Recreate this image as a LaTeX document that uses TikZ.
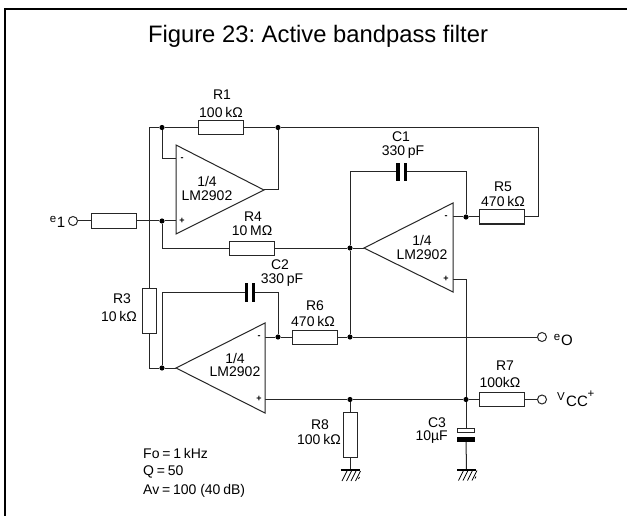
\documentclass[tikz,border=0pt]{standalone}
\usepackage{fontspec}
\setmainfont{Liberation Sans}
\frenchspacing
\newcommand{\nsp}{\hspace{0.2em}}
\tikzset{
  wire/.style={line width=1pt,black!85},
  res/.style={draw=black!85,line width=1pt,fill=white,rectangle,inner sep=0pt,minimum width=45pt,minimum height=14pt},
  vres/.style={res,minimum width=14pt,minimum height=45pt},
  jdot/.style={circle,fill=black,inner sep=0pt,minimum size=5.2pt},
  term/.style={circle,draw=black!85,line width=1pt,fill=white,inner sep=0pt,minimum size=9pt},
  plate/.style={rectangle,fill=black,inner sep=0pt},
  lab/.style={inner sep=0pt,font=\fontsize{14}{15}\selectfont},
  sgn/.style={inner sep=0pt,font=\fontsize{9}{10}\selectfont},
  small/.style={inner sep=0pt,font=\fontsize{11.5}{12}\selectfont},
  big/.style={inner sep=0pt,font=\fontsize{15}{15}\selectfont},
  amp/.style={draw=black!85,line width=1pt,fill=white,line join=miter},
  gndsym/.pic={
    \draw[line width=2pt] (-9.5,0)--(9.5,0);
    \foreach \i in {-8,-3.5,1,5.5}{\draw[line width=0.7pt] (\i+5,1)--(\i,11);}
    \draw[line width=0.7pt] (9.5,7)--(8.5,9);
  }
}
\begin{document}
\begin{tikzpicture}[x=1pt,y=-1pt]
\useasboundingbox (0,0) rectangle (627,516);
\fill[white] (0,0) rectangle (627,516);
\draw[line width=2.4pt,line cap=butt] (5,516)--(5,9)--(627,9);
\node[inner sep=0pt,font=\fontsize{23.8}{26}\selectfont] (title) at (318,36.5) {Figure 23: Active bandpass filter};

% pins and corners
\coordinate (tlc) at (149,127.5);
\coordinate (trc) at (538,127.5);
\coordinate (r5c) at (538,217);
\coordinate (o1c) at (278,190);
\coordinate (a1t) at (176,145); \coordinate (a1b) at (176,234); \coordinate (a1o) at (264,190);
\coordinate (a1m) at (176,159); \coordinate (a1p) at (176,221);
\coordinate (a2t) at (453,203); \coordinate (a2b) at (453,292); \coordinate (a2o) at (364,248);
\coordinate (a2m) at (453,217); \coordinate (a2p) at (453,279);
\coordinate (a3t) at (265,323); \coordinate (a3b) at (265,413); \coordinate (a3o) at (176,368);
\coordinate (a3m) at (265,337); \coordinate (a3p) at (265,399.5);
\coordinate (c1l) at (350,172); \coordinate (c1r) at (466,172);
\coordinate (c2l) at (162,292); \coordinate (c2r) at (278,292);
\coordinate (m1c) at (162,159);
\coordinate (r4l) at (162,248);
\coordinate (r3c) at (149,368);
\coordinate (p2c) at (466,279);

% junctions
\node[jdot] (d1) at (162,127.5) {};
\node[jdot] (d2) at (278,127.5) {};
\node[jdot] (d3) at (162,221) {};
\node[jdot] (d4) at (350,248) {};
\node[jdot] (d5) at (466,217) {};
\node[jdot] (d6) at (162,368) {};
\node[jdot] (d7) at (278,337) {};
\node[jdot] (d8) at (350,337) {};
\node[jdot] (d9) at (350,399.5) {};
\node[jdot] (d10) at (466,399.5) {};

% components
\node[res] (R1) at (220.5,127.5) {};
\node[res] (Rin) at (113.5,221) {};
\node[res] (R4) at (251.5,248) {};
\node[res] (R5) at (501.5,217) {};
\node[res] (R6) at (314.5,337) {};
\node[res] (R7) at (501.5,399.5) {};
\node[vres] (R3) at (149,310.5) {};
\node[vres] (R8) at (350,435) {};
\node[term] (e1t) at (73,221) {};
\node[term] (eot) at (542,337) {};
\node[term] (vct) at (542,399.5) {};
\node[plate,minimum width=3.4pt,minimum height=18pt] (C1a) at (398,172) {};
\node[plate,minimum width=3.4pt,minimum height=18pt] (C1b) at (405.5,172) {};
\node[plate,minimum width=3.4pt,minimum height=19pt] (C2a) at (246.5,292) {};
\node[plate,minimum width=3.4pt,minimum height=19pt] (C2b) at (253.5,292) {};
\node[rectangle,draw=black!85,line width=1pt,fill=white,inner sep=0pt,minimum width=17.5pt,minimum height=4.6pt] (C3a) at (466,430.5) {};
\node[plate,minimum width=18.5pt,minimum height=5pt] (C3b) at (466,439.5) {};
\coordinate (g1) at (350,470);
\coordinate (g2) at (466.5,469.5);

% wires
\draw[wire] (R3.north) -- (tlc) -- (d1) -- (R1) -- (d2) -- (trc) -- (r5c) -- (R5);
\draw[wire] (d1) -- (m1c) -- (a1m);
\draw[wire] (d2) -- (o1c) -- (a1o);
\draw[wire] (e1t) -- (Rin) -- (d3) -- (a1p);
\draw[wire] (d3) -- (r4l) -- (R4) -- (d4) -- (a2o);
\draw[wire] (c1l) -- (d4) -- (d8);
\draw[wire] (c1l) -- (C1a);
\draw[wire] (C1b) -- (c1r) -- (d5);
\draw[wire] (a2m) -- (d5) -- (R5);
\draw[wire] (a2p) -- (p2c) -- (d10);
\draw[wire] (R3.south) -- (r3c) -- (d6) -- (a3o);
\draw[wire] (d6) -- (c2l) -- (C2a);
\draw[wire] (C2b) -- (c2r) -- (d7);
\draw[wire] (a3m) -- (d7) -- (R6) -- (d8) -- (eot);
\draw[wire] (a3p) -- (d9) -- (d10) -- (R7) -- (vct);
\draw[wire] (d9) -- (R8);
\draw[wire] (R8) -- (g1);
\draw[wire] (d10) -- (C3a);
\draw[wire] (C3b) -- (g2);
\pic at (g1) {gndsym};
\pic at (g2) {gndsym};

% amplifiers
\draw[amp] (a1t) -- (a1o) -- (a1b) -- cycle;
\draw[amp] (a2t) -- (a2o) -- (a2b) -- cycle;
\draw[amp] (a3t) -- (a3o) -- (a3b) -- cycle;
\node[sgn] (s1m) at (182,159) {\textbf{-}};
\node[sgn] (s1p) at (182,221) {\textbf{+}};
\node[sgn] (s2m) at (446,217) {\textbf{-}};
\node[sgn] (s2p) at (446,279) {\textbf{+}};
\node[sgn] (s3m) at (259,337) {\textbf{-}};
\node[sgn] (s3p) at (259,399) {\textbf{+}};

% amplifier labels
\node[lab] (l1a) at (207,181) {1/4};
\node[lab] (l1b) at (207,196) {LM2902};
\node[lab] (l2a) at (422,240) {1/4};
\node[lab] (l2b) at (422,255) {LM2902};
\node[lab] (l3a) at (235,358) {1/4};
\node[lab] (l3b) at (235,372) {LM2902};

% component labels
\node[lab] (tR1) at (222,95) {R1};
\node[lab] (vR1) at (221,112) {100\nsp kΩ};
\node[lab] (tR4) at (253,217) {R4};
\node[lab] (vR4) at (252,231) {10\nsp MΩ};
\node[lab] (tC1) at (401,137) {C1};
\node[lab] (vC1) at (403,152) {330\nsp pF};
\node[lab] (tR5) at (503,187) {R5};
\node[lab] (vR5) at (503,201) {470\nsp kΩ};
\node[lab] (tC2) at (280,265) {C2};
\node[lab] (vC2) at (282,280) {330\nsp pF};
\node[lab] (tR6) at (315,306) {R6};
\node[lab] (vR6) at (313,321) {470\nsp kΩ};
\node[lab] (tR3) at (122,299) {R3};
\node[lab] (vR3) at (119,316) {10\nsp kΩ};
\node[lab] (tR8) at (320,425) {R8};
\node[lab,anchor=east] (vR8) at (341,439) {100\nsp kΩ};
\node[lab] (tC3) at (437,422.5) {C3};
\node[lab,anchor=east] (vC3) at (448,437) {10µF};
\node[lab] (tR7) at (505,366) {R7};
\node[lab] (vR7) at (500,382) {100kΩ};

% terminal labels
\node[small] (e1a) at (53,219) {e};
\node[big] (e1b) at (61,222.5) {1};
\node[small] (eoa) at (557,337) {e};
\node[big] (eob) at (567,340.5) {O};
\node[small] (vca) at (561,397) {V};
\node[big] (vcb) at (577,401.5) {CC};
\node[small] (vcc) at (591,394.5) {+};

% notes
\node[lab,anchor=west] (n1) at (143,453) {Fo\nsp=\nsp 1\nsp kHz};
\node[lab,anchor=west] (n2) at (143,472) {Q\nsp=\nsp 50};
\node[lab,anchor=west] (n3) at (143,491) {Av\nsp=\nsp 100 (40\nsp dB)};
\end{tikzpicture}
\end{document}
